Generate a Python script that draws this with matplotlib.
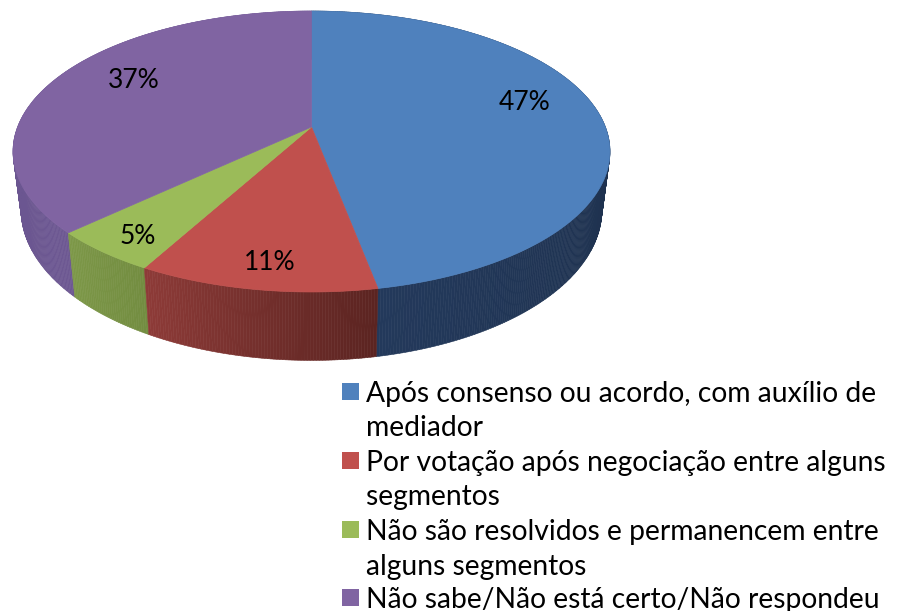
import numpy as np
import matplotlib
matplotlib.use("Agg")
import matplotlib.pyplot as plt
from matplotlib.patches import Polygon, Rectangle
from matplotlib.collections import PolyCollection
from matplotlib.colors import to_rgb
from matplotlib.font_manager import FontProperties

# ---------------- data ----------------
categories = [
    "Após consenso ou acordo, com auxílio de\nmediador",
    "Por votação após negociação entre alguns\nsegmentos",
    "Não são resolvidos e permanencem entre\nalguns segmentos",
    "Não sabe/Não está certo/Não respondeu",
]
values = [47, 11, 5, 37]
pct_labels = ["47%", "11%", "5%", "37%"]

# ---------------- style ----------------
top_colors = ["#4F81BD", "#C0504D", "#9BBB59", "#8064A2"]
side_left = ["#23395B", "#8E3B38", "#7D9848", "#6A5590"]
side_right = ["#1E314E", "#5B2421", "#738D41", "#6D5892"]
label_xy = [(525, 102), (270, 263), (138, 237), (134, 80)]

W, H, DPI = 897, 611, 100
fig = plt.figure(figsize=(W / DPI, H / DPI), dpi=DPI)
ax = fig.add_axes([0, 0, 1, 1])
ax.set_xlim(0, W)
ax.set_ylim(H, 0)
ax.axis("off")

# perspective pie geometry (pixel space)
CX, CY = 311.5, 127.0
RX, RY = 293.9, 136.2
K = 0.1744
T = 56.5
BX = 0.973


def top_pt(theta, r=1.0):
    u, v = r * np.cos(theta), r * np.sin(theta)
    w = 1 + K * v
    return CX + RX * u / w, CY - RY * v / w


def bot_pt(theta):
    u, v = np.cos(theta), np.sin(theta)
    w = 1 + K * v
    return CX + BX * RX * u / w, CY + (-RY * v + T) / w


total = float(sum(values))
cum = np.concatenate([[0], np.cumsum(values)]) / total
starts = np.deg2rad(90 - 360 * cum[:-1])
ends = np.deg2rad(90 - 360 * cum[1:])

vis_lo, vis_hi = np.deg2rad(-170), np.deg2rad(-10)

quads, qcols, depths = [], [], []
for i in range(len(values)):
    a0, a1 = starts[i], ends[i]
    n = max(4, int(abs(a0 - a1) / np.deg2rad(0.5)))
    th = np.linspace(a0, a1, n + 1)
    lo = max(min(a0, a1), vis_lo)
    hi = min(max(a0, a1), vis_hi)
    cl = np.array(to_rgb(side_left[i]))
    cr = np.array(to_rgb(side_right[i]))
    for j in range(n):
        t0, t1 = th[j], th[j + 1]
        tm = 0.5 * (t0 + t1)
        p0, p1 = top_pt(t0), top_pt(t1)
        b0, b1 = bot_pt(t0), bot_pt(t1)
        quads.append([p0, p1, b1, b0])
        if hi > lo:
            f = np.clip((tm - lo) / (hi - lo), 0, 1)
        else:
            f = 0.5
        qcols.append(tuple(cl * (1 - f) + cr * f))
        depths.append(np.sin(tm))

order = np.argsort(depths)[::-1]
pc = PolyCollection([quads[k] for k in order],
                    facecolors=[qcols[k] for k in order],
                    edgecolors=[qcols[k] for k in order],
                    linewidths=0.4, antialiased=True)
ax.add_collection(pc)

# top faces
for i in range(len(values)):
    th = np.linspace(starts[i], ends[i], 200)
    pts = [top_pt(0, 0)] + [top_pt(t) for t in th]
    ax.add_patch(Polygon(pts, closed=True, facecolor=top_colors[i],
                         edgecolor=top_colors[i], linewidth=0.5))

# percentage labels
for (x, y), s in zip(label_xy, pct_labels):
    ax.text(x, y, s, ha="center", va="center", fontsize=19,
            family=["Lato", "DejaVu Sans"], color="black")

# legend
fp_family = ["Lato", "DejaVu Sans"]
fs = 20.3
pitch = 34.5
renderer = fig.canvas.get_renderer()
fp = FontProperties(family=fp_family, size=fs)
lp_w, lp_h, lp_d = renderer.get_text_width_height_descent("lp", fp, ismath=False)
ls = (pitch - lp_d) / (lp_h - lp_d)

first_baselines = [402, 471, 540, 608]
cap = 0.72 * fs * DPI / 72
for i, lab in enumerate(categories):
    yb = first_baselines[i]
    nlines = lab.count("\n") + 1
    yc = yb - cap / 2
    ax.add_patch(Rectangle((342, yc - 8.5), 17, 17, facecolor=top_colors[i],
                           edgecolor="none"))
    ax.text(366, yb + pitch * (nlines - 1), lab, ha="left", va="baseline",
            fontsize=fs, family=fp_family, color="black", linespacing=ls)

fig.savefig("out.png", dpi=DPI)
